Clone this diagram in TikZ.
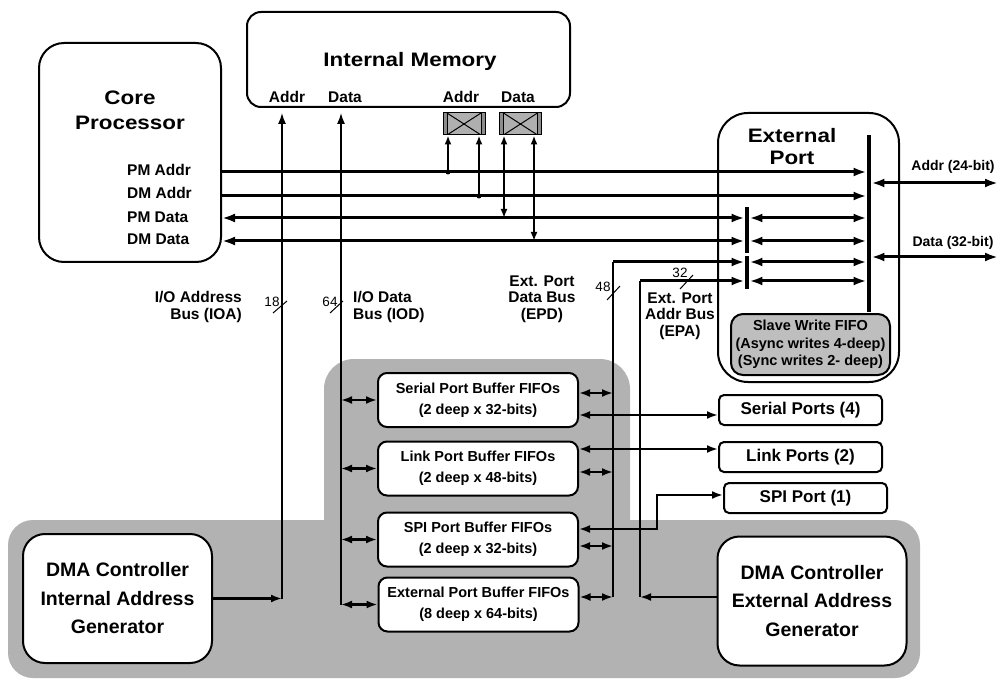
\documentclass[tikz,border=0pt]{standalone}
\usepackage{fontspec}
\setmainfont{Liberation Sans}
\newfontfamily\titlefont{Liberation Sans}[FakeStretch=1.15]
\usetikzlibrary{arrows.meta}

\begin{document}
\begin{tikzpicture}[x=1pt, y=-1pt,
    blk/.style={draw, line width=2pt, rounded corners=#1, fill=white, inner sep=0pt, align=center},
    blk/.default=8pt,
    big/.style={font=\titlefont\bfseries\fontsize{19.5}{21.7}\selectfont, inner sep=0pt, align=center},
    sig/.style={font=\bfseries\fontsize{15.5}{16.5}\selectfont, inner sep=0pt},
    num/.style={font=\fontsize{13.5}{14}\selectfont, inner sep=0pt},
    fifobox/.style={blk=9pt, minimum width=200pt, minimum height=54pt, font=\bfseries\fontsize{14.5}{21}\selectfont},
    portbox/.style={blk=5pt, minimum width=163pt, minimum height=30pt, font=\bfseries\fontsize{17}{18}\selectfont},
    dmabox/.style={blk=22pt, minimum width=189pt, minimum height=129pt, font=\bfseries\fontsize{19.5}{28.5}\selectfont},
    bar/.style={fill=black, inner sep=0pt, minimum width=4.5pt},
    xbox/.style={draw, line width=1pt, fill=swgray, minimum width=42pt, minimum height=22pt, inner sep=0pt,
        path picture={
            \draw[fill=swinner] ([xshift=4pt]path picture bounding box.north west) rectangle ([xshift=-4pt]path picture bounding box.south east);
            \draw ([xshift=4pt]path picture bounding box.north west) -- ([xshift=-4pt]path picture bounding box.south east)
                  ([xshift=4pt]path picture bounding box.south west) -- ([xshift=-4pt]path picture bounding box.north east);
        }},
    bus/.style={line width=3pt, >={Latex[length=13pt,width=9pt]}},
    swbus/.style={line width=2.5pt, >={Latex[length=9pt,width=7pt]}},
    iobus/.style={line width=1.4pt, >={Latex[length=11pt,width=8pt]}},
    link/.style={line width=2.5pt, >={Latex[length=11pt,width=8pt]}},
    slash/.style={line width=1pt}]

    % Define colors
    \definecolor{regiongray}{RGB}{178,178,178} % DMA region
    \definecolor{fifogray}{RGB}{190,190,190}   % slave FIFO
    \definecolor{swgray}{RGB}{140,140,140}     % bus switch
    \definecolor{swinner}{RGB}{175,175,175}

    \useasboundingbox (0,0) rectangle (999,679);

    % Shaded DMA region
    \fill[regiongray, rounded corners=30pt] (324,359) rectangle (630,560);
    \fill[regiongray, rounded corners=25pt] (8,520) rectangle (920,678);

    % Core processor
    \node[blk=25pt, minimum width=182pt, minimum height=219pt] (core) at (130,152.5) {};
    \node[big, font=\titlefont\bfseries\fontsize{19.5}{25}\selectfont] (coretitle) at (130,110) {Core\\Processor};
    \node[sig, anchor=west] (pmaddr) at (127,170) {PM Addr};
    \node[sig, anchor=west] (dmaddr) at (127,193) {DM Addr};
    \node[sig, anchor=west] (pmdata) at (127,217) {PM Data};
    \node[sig, anchor=west] (dmdata) at (127,239) {DM Data};

    % Internal memory
    \node[blk=14pt, minimum width=323pt, minimum height=95pt] (intmem) at (408.5,59.5) {};
    \node[big] (memtitle) at (410,61) {Internal Memory};
    \node[sig] (memaddr) at (287,97) {Addr};
    \node[sig] (memdata) at (345,97) {Data};
    \node[sig] (memaddrb) at (461,97) {Addr};
    \node[sig] (memdatab) at (518,97) {Data};
    \node[xbox] (swaddr) at (464,124) {};
    \node[xbox] (swdata) at (520.5,124) {};

    % External port
    \node[blk=30pt, minimum width=181pt, minimum height=269pt] (extport) at (808.5,247.5) {};
    \node[big] (eptitle) at (792,146.5) {External\\Port};
    \node[bar, minimum height=177pt] (epbar) at (869,223.5) {};
    \node[bar, minimum height=46pt] (bara) at (747,230) {};
    \node[bar, minimum height=33pt] (barb) at (747,272.5) {};
    \node[blk=12pt, fill=fifogray, minimum width=159pt, minimum height=61pt,
        font=\bfseries\fontsize{14.5}{17.5}\selectfont] (slave) at (810.5,344.5)
        {Slave Write FIFO\\(Async writes 4-deep)\\(Sync writes 2- deep)};
    \node[sig, font=\bfseries\fontsize{14}{15}\selectfont] (addrout) at (953,167) {Addr (24-bit)};
    \node[sig, font=\bfseries\fontsize{14}{15}\selectfont] (dataout) at (953,243) {Data (32-bit)};

    % Buffer FIFOs
    \node[fifobox] (serbuf) at (478,400) {Serial Port Buffer FIFOs\\(2 deep x 32-bits)};
    \node[fifobox] (linkbuf) at (478,468.5) {Link Port Buffer FIFOs\\(2 deep x 48-bits)};
    \node[fifobox] (spibuf) at (478,539.5) {SPI Port Buffer FIFOs\\(2 deep x 32-bits)};
    \node[fifobox] (extbuf) at (478.5,604.5) {External Port Buffer FIFOs\\(8 deep x 64-bits)};

    % Peripheral ports
    \node[portbox] (serports) at (800.5,410) {Serial Ports (4)};
    \node[portbox] (linkports) at (800.5,457) {Link Ports (2)};
    \node[portbox] (spiport) at (805.5,498) {SPI Port (1)};

    % DMA controllers
    \node[dmabox] (dmaint) at (117.5,598.5) {DMA Controller\\Internal Address\\Generator};
    \node[dmabox] (dmaext) at (812,601) {DMA Controller\\External Address\\Generator};

    % Bus labels
    \node[sig, anchor=east, align=right] (ioalbl) at (242,307) {I/O Address\\Bus (IOA)};
    \node[sig, anchor=west, align=left] (iodlbl) at (353,307) {I/O Data\\Bus (IOD)};
    \node[sig, align=center] (epdlbl) at (542,299) {Ext. Port\\Data Bus\\(EPD)};
    \node[sig, align=center] (epalbl) at (680,316) {Ext. Port\\Addr Bus\\(EPA)};
    \node[num] (n18) at (272,302) {18};
    \node[num] (n64) at (330,302) {64};
    \node[num] (n48) at (603,287) {48};
    \node[num] (n32) at (680,273) {32};

    % Rows and columns of the buses
    \coordinate (rpma) at (0,172);
    \coordinate (rdma) at (0,196);
    \coordinate (rpmd) at (0,218);
    \coordinate (rdmd) at (0,241);
    \coordinate (repd) at (0,262);
    \coordinate (repa) at (0,281);
    \coordinate (raddr) at (0,183);
    \coordinate (rdata) at (0,257);
    \coordinate (rser) at (0,393);
    \coordinate (rserp) at (0,415);
    \coordinate (rlinkp) at (0,449);
    \coordinate (rlink) at (0,472);
    \coordinate (rspib) at (0,529);
    \coordinate (rspip) at (0,495);
    \coordinate (rspi) at (0,546);
    \coordinate (rext) at (0,597);
    \coordinate (xioa) at (282,0);
    \coordinate (xiod) at (341,0);
    \coordinate (xepd) at (613,0);
    \coordinate (xepa) at (640,0);
    \coordinate (xspi) at (657,0);
    \coordinate (xout) at (998,0);

    % Core buses to the external port
    \draw[bus,->] (core.east |- rpma) -- (epbar.west |- rpma);
    \draw[bus,->] (core.east |- rdma) -- (epbar.west |- rdma);
    \draw[bus,<->] (core.east |- rpmd) -- (bara.west |- rpmd);
    \draw[bus,<->] (core.east |- rdmd) -- (bara.west |- rdmd);
    \draw[bus,<->] (bara.east |- rpmd) -- (epbar.west |- rpmd);
    \draw[bus,<->] (bara.east |- rdmd) -- (epbar.west |- rdmd);
    \draw[bus,<->] (barb.east |- repd) -- (epbar.west |- repd);
    \draw[bus,<->] (barb.east |- repa) -- (epbar.west |- repa);
    \draw[bus,<->] (epbar.east |- raddr) -- (xout |- raddr);
    \draw[bus,<->] (epbar.east |- rdata) -- (xout |- rdata);

    % Memory bus switches
    \coordinate (ta) at (448,172);
    \coordinate (tb) at (479,196);
    \coordinate (tc) at (504,218);
    \coordinate (td) at (534,241);
    \draw[swbus,->] (ta) -- (ta |- swaddr.south);
    \draw[swbus,->] (tb) -- (tb |- swaddr.south);
    \draw[swbus,<->] (tc) -- (tc |- swdata.south);
    \draw[swbus,<->] (td) -- (td |- swdata.south);
    \fill (ta) circle (2.5pt);
    \fill (tb) circle (2.5pt);

    % I/O buses
    \draw[iobus,->,shorten >=5pt] (xioa |- dmaint.east) -- (xioa |- intmem.south);
    \draw[iobus,->,shorten >=5pt] (xiod |- extbuf.west) -- (xiod |- intmem.south);
    \draw[link,->] (dmaint.east) -- (xioa |- dmaint.east);
    \foreach \b in {serbuf,linkbuf,spibuf,extbuf}
        \draw[link,<->] (xiod |- \b.west) -- (\b.west);

    % External port buses
    \draw[iobus] (xepd |- rext) -- (xepd |- repd);
    \draw[iobus] (xepa |- rext) -- (xepa |- repa);
    \draw[bus,->] (xepd |- repd) -- (barb.west |- repd);
    \draw[bus,->] (xepa |- repa) -- (barb.west |- repa);
    \draw[link,<->] (serbuf.east |- rser) -- (xepd |- rser);
    \draw[link,<->] (linkbuf.east |- rlink) -- (xepd |- rlink);
    \draw[link,<->] (spibuf.east |- rspi) -- (xepd |- rspi);
    \draw[link,<->] (extbuf.east |- rext) -- (xepd |- rext);
    \draw[link,->] (dmaext.west |- rext) -- (xepa |- rext);

    % Peripheral links
    \draw[link,<->] (serbuf.east |- rserp) -- (serports.west |- rserp);
    \draw[link,<->] (linkbuf.east |- rlinkp) -- (linkports.west |- rlinkp);
    \draw[link,<->] (spibuf.east |- rspib) -| (xspi |- rspip) -- (spiport.west |- rspip);

    % Bus width marks
    \draw[slash] (280,307) ++(-7,6) -- ++(14,-12);
    \draw[slash] (336.5,307) ++(-6.5,6) -- ++(13,-12);
    \draw[slash] (613.5,293) ++(-6.5,7) -- ++(13,-14);
    \draw[slash] (686.5,282) ++(-6.5,7) -- ++(13,-14);
\end{tikzpicture}
\end{document}
